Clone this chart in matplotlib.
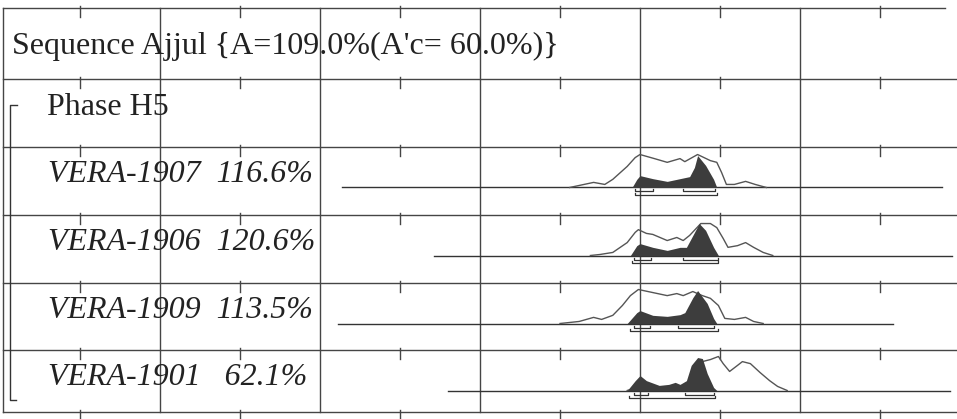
import numpy as np
import matplotlib.pyplot as plt

plt.rcParams['font.family'] = ['Liberation Serif', 'DejaVu Serif']

# ---------- datos (años cal BC, densidad relativa) ----------
title = "Sequence Ajjul {A=109.0%(A'c= 60.0%)}"
phase = "Phase H5"
labels = ["VERA-1907  116.6%", "VERA-1906  120.6%", "VERA-1909  113.5%", "VERA-1901   62.1%"]

# extensión de la línea base de cada distribución
span_start = [2186, 2129, 2189, 2120]
span_end = [1811, 1805, 1842, 1806]

# likelihood (contorno)
lik_x = [
    [2044, 2029, 2022, 2017, 2008, 2003, 2000, 1991, 1983, 1975, 1972, 1964, 1956, 1952, 1949, 1946, 1941, 1934, 1928, 1921],
    [2031, 2025, 2017, 2008, 2003, 2001, 1996, 1992, 1983, 1977, 1973, 1969, 1962, 1956, 1952, 1948, 1945, 1939, 1934, 1929, 1923, 1917],
    [2050, 2038, 2029, 2024, 2017, 2011, 2006, 2001, 1992, 1983, 1977, 1973, 1967, 1961, 1956, 1951, 1947, 1941, 1934, 1929, 1923],
    [2008, 2000, 1988, 1975, 1969, 1964, 1961, 1956, 1951, 1948, 1944, 1939, 1936, 1931, 1925, 1919, 1914, 1908],
]
lik_p = [
    [0, .15, .09, .24, .62, .88, .97, .85, .74, .85, .76, .97, .79, .74, .44, .09, .09, .18, .09, 0],
    [0, .03, .09, .38, .68, .76, .65, .62, .44, .53, .44, .59, .94, .94, .82, .50, .24, .29, .38, .24, .09, 0],
    [0, .06, .18, .12, .24, .53, .82, 1.0, .91, .82, .88, .82, .94, .82, .74, .53, .15, .12, .18, .06, 0],
    [0, .12, .09, .12, .24, .59, .85, .91, 1.0, .79, .56, .74, .85, .79, .53, .29, .12, 0],
]

# posterior (relleno)
post_x = [
    [2005, 2002, 2000, 1992, 1983, 1975, 1969, 1966, 1964, 1959, 1954, 1952],
    [2006, 2002, 2000, 1992, 1983, 1975, 1971, 1967, 1963, 1959, 1954, 1951],
    [2008, 2002, 2000, 1992, 1983, 1975, 1972, 1967, 1964, 1958, 1954, 1952],
    [2008, 2003, 2000, 1996, 1988, 1982, 1978, 1975, 1971, 1968, 1964, 1961, 1958, 1954, 1952],
]
post_p = [
    [0, .24, .35, .26, .18, .26, .32, .59, .94, .65, .24, 0],
    [0, .29, .35, .24, .15, .24, .24, .59, .94, .74, .24, 0],
    [0, .32, .38, .24, .21, .26, .32, .76, .97, .59, .15, 0],
    [0, .29, .44, .29, .15, .18, .24, .18, .29, .74, .97, .94, .50, .09, 0],
]

# rangos 68.2% y 95.4%
r68 = [
    [(2003, 1992), (1973, 1953)],
    [(2004, 1993), (1973, 1951)],
    [(2004, 1994), (1976, 1954)],
    [(2004, 1995), (1972, 1954)],
]
r95 = [(2003, 1952), (2005, 1951), (2006, 1951), (2007, 1953)]

# ---------- maquetación (píxeles) ----------
W, H = 957, 419
def px(x):
    return 2400 - x * 0.625

row_lines = [8, 79, 147, 215, 283, 350, 412]
amp = 34          # px por unidad de densidad
grid_col = '#454545'
fs = 23

fig = plt.figure(figsize=(W / 100, H / 100), dpi=100)
ax = fig.add_axes([0, 0, 1, 1])
ax.set_xlim(px(0), px(W))
ax.set_ylim(H, 0)
ax.axis('off')

# rejilla
for i, y in enumerate(row_lines):
    x_end = px(945) if i == 0 else px(W)
    ax.plot([px(3), x_end], [y, y], color=grid_col, lw=1.0)
    for yr in np.arange(2350, 1800, -100):
        ax.plot([yr, yr], [y - 2, y + 9], color=grid_col, lw=1.0)
for yr in np.arange(2300, 1800, -100):
    ax.plot([yr, yr], [row_lines[0], row_lines[-1]], color=grid_col, lw=1.0)
ax.plot([px(3), px(3)], [row_lines[0], row_lines[-1]], color=grid_col, lw=1.0)

# corchete de fase
ax.plot([px(17), px(10), px(10), px(16)], [105, 105, 400, 400], color='#333333', lw=1.0)

# textos
ax.text(px(12), row_lines[0] + 46, title, fontsize=fs, va='baseline', ha='left', color='#222222')
ax.text(px(47), row_lines[1] + 36, phase, fontsize=fs, va='baseline', ha='left', color='#222222')

for k, lab in enumerate(labels):
    top = row_lines[k + 2]
    base = top + 40.5
    ax.text(px(48), top + 35, lab, fontsize=fs, style='italic', va='baseline', ha='left', color='#222222')
    ax.plot([span_start[k], span_end[k]], [base, base], color='#333333', lw=1.0)
    lx = np.array(lik_x[k]); lp = np.array(lik_p[k])
    ax.plot(lx, base - lp * amp, color='#555555', lw=1.0, zorder=3)
    qx = np.array(post_x[k]); qp = np.array(post_p[k])
    ax.fill_between(qx, base, base - qp * amp, color='#3d3d3d', lw=0, zorder=4)
    # rangos
    for a, b in r68[k]:
        ax.plot([a, a, b, b], [base + 2, base + 4, base + 4, base + 2], color='#333333', lw=0.9)
    a, b = r95[k]
    ax.plot([a, a, b, b], [base + 5.5, base + 7.5, base + 7.5, base + 5.5], color='#333333', lw=0.9)

fig.savefig('out.png', dpi=100)
